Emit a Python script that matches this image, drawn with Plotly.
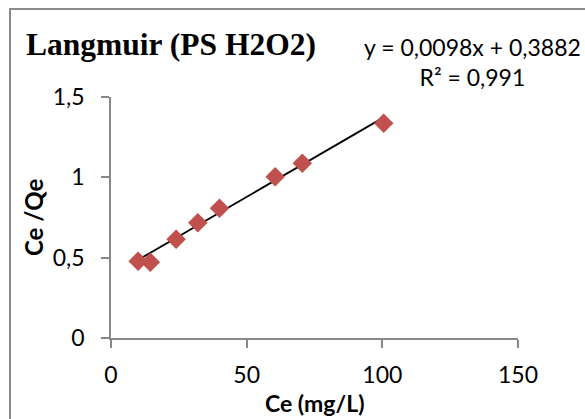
import plotly.graph_objects as go

# Data
ce = [10, 14.5, 24, 32, 40, 60.5, 70.5, 100.5]
ce_qe = [0.478, 0.472, 0.614, 0.717, 0.807, 1.004, 1.088, 1.337]

slope = 0.0098
intercept = 0.3882
eq_text = "y = 0,0098x + 0,3882<br>R² = 0,991"
title_text = "Langmuir (PS H2O2)"
x_title = "Ce (mg/L)"
y_title = "Ce /Qe"
x_ticks = [0, 50, 100, 150]
x_ticklabels = ["0", "50", "100", "150"]
y_ticks = [0, 0.5, 1, 1.5]
y_ticklabels = ["0", "0,5", "1", "1,5"]

W, H = 585, 419
L, R, T, B = 111, 67, 97, 81
pw, ph = W - L - R, H - T - B

def px_x(p):
    return (p - L) / pw

def px_y(p):
    return (H - B - p) / ph

trend_x = [min(ce), max(ce)]
trend_y = [slope * v + intercept for v in trend_x]

fig = go.Figure()
fig.add_trace(go.Scatter(x=trend_x, y=trend_y, mode="lines",
                         line=dict(color="black", width=1.8),
                         showlegend=False, hoverinfo="skip"))
fig.add_trace(go.Scatter(x=ce, y=ce_qe, mode="markers",
                         marker=dict(symbol="diamond", size=15, color="#C0504D",
                                     line=dict(width=0)),
                         showlegend=False))

axis_common = dict(showgrid=False, zeroline=False, showline=True,
                   linecolor="#888888", linewidth=1.5, ticks="outside",
                   tickcolor="#888888", tickwidth=1.5, ticklen=8,
                   tickfont=dict(family="Lato", size=23, color="black"))

fig.update_xaxes(range=[0, 150], tickvals=x_ticks, ticktext=x_ticklabels,
                 ticklabelstandoff=8, **axis_common)
fig.update_yaxes(range=[0, 1.5], tickvals=y_ticks, ticktext=y_ticklabels,
                 ticklabelstandoff=12, **axis_common)

fig.add_annotation(text=title_text, xref="paper", yref="paper",
                   x=px_x(24), y=px_y(25), xanchor="left", yanchor="top",
                   showarrow=False,
                   font=dict(family="Liberation Serif", size=31.5, color="black", weight="bold"))
fig.add_annotation(text=eq_text, xref="paper", yref="paper",
                   x=px_x(472), y=px_y(31), xanchor="center", yanchor="top",
                   showarrow=False, align="center",
                   font=dict(family="Lato", size=23, color="black"))
fig.add_annotation(text="<b>" + y_title + "</b>", xref="paper", yref="paper",
                   x=px_x(33), y=px_y(218), xanchor="center", yanchor="middle",
                   textangle=-90, showarrow=False,
                   font=dict(family="Lato", size=24, color="black"))
fig.add_annotation(text="<b>" + x_title + "</b>", xref="paper", yref="paper",
                   x=px_x(314), y=px_y(403), xanchor="center", yanchor="middle",
                   showarrow=False,
                   font=dict(family="Lato", size=23, color="black"))

fig.add_shape(type="rect", xref="paper", yref="paper",
              x0=px_x(10), x1=px_x(W + 10), y0=px_y(H + 10), y1=px_y(9),
              line=dict(color="#8C8C8C", width=2), layer="below")

fig.update_layout(width=W, height=H, margin=dict(l=L, r=R, t=T, b=B),
                  paper_bgcolor="white", plot_bgcolor="white", showlegend=False)

fig.write_html("out.html")
